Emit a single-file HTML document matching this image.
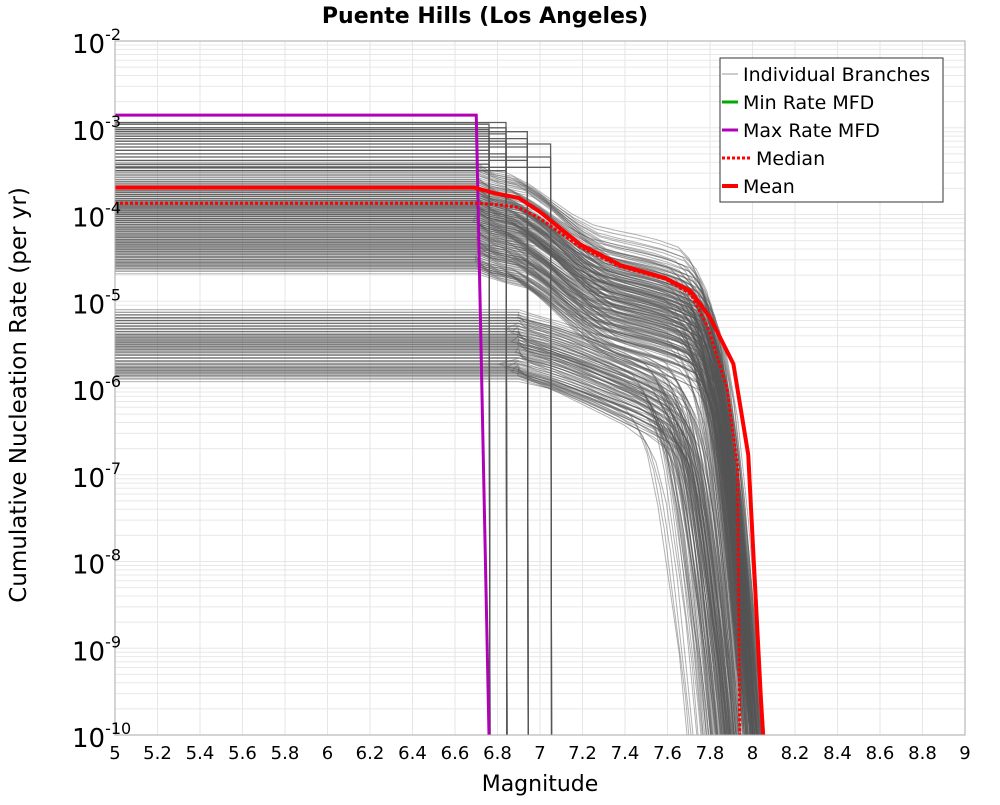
<!DOCTYPE html>
<html><head><meta charset="utf-8"><style>
body{margin:0;background:#fff;font-family:"Liberation Sans",sans-serif}
svg text{font-family:"DejaVu Sans","Liberation Sans",sans-serif}
</style></head><body>
<svg id="c" width="1000" height="800" xmlns="http://www.w3.org/2000/svg">
<defs><clipPath id="pc"><rect x="115" y="41" width="850" height="694"/></clipPath></defs>
<rect width="1000" height="800" fill="#fff"/>
<text x="485" y="23" font-size="22" font-weight="bold" text-anchor="middle">Puente Hills (Los Angeles)</text>
<g id="grid"></g>
<g id="branches" clip-path="url(#pc)"></g>
<g id="main" clip-path="url(#pc)"></g>
<rect x="115" y="41" width="850" height="694" fill="none" stroke="#aaa"/>
<g id="axes"></g>
<text x="540" y="791" font-size="22" text-anchor="middle">Magnitude</text>
<text transform="translate(26,395) rotate(-90)" font-size="23" text-anchor="middle">Cumulative Nucleation Rate (per yr)</text>
<g>
<rect x="720" y="58" width="223" height="144" fill="#fff" stroke="#333"/>
<line x1="722" y1="74" x2="738" y2="74" stroke="#999" stroke-width="1"/>
<text x="743" y="81" font-size="19">Individual Branches</text>
<line x1="722" y1="102" x2="738" y2="102" stroke="#00aa00" stroke-width="3"/>
<text x="743" y="109" font-size="19">Min Rate MFD</text>
<line x1="722" y1="130" x2="738" y2="130" stroke="#b000b8" stroke-width="3"/>
<text x="743" y="137" font-size="19">Max Rate MFD</text>
<line x1="722" y1="158" x2="750" y2="158" stroke="#f00" stroke-width="3" stroke-dasharray="3,2"/>
<text x="756" y="165" font-size="19">Median</text>
<line x1="722" y1="186" x2="738" y2="186" stroke="#f00" stroke-width="4"/>
<text x="743" y="193" font-size="19">Mean</text>
</g>
</svg>
<script>
const xTicks=[5,5.2,5.4,5.6,5.8,6,6.2,6.4,6.6,6.8,7,7.2,7.4,7.6,7.8,8,8.2,8.4,8.6,8.8,9];
const yDecades=[-2,-3,-4,-5,-6,-7,-8,-9,-10];
const meanMag=[5,6.69,6.79,6.9,7.0,7.19,7.38,7.59,7.71,7.8,7.91,7.98,8.04,8.05];
const meanRate=[2.05e-4,2.05e-4,1.75e-4,1.55e-4,1.07e-4,4.5e-5,2.6e-5,1.85e-5,1.3e-5,6.5e-6,1.9e-6,1.7e-7,2.5e-10,1e-10];
const medMag=[5,6.7,6.8,6.9,7.0,7.19,7.38,7.59,7.71,7.79,7.88,7.93,7.94];
const medRate=[1.35e-4,1.35e-4,1.3e-4,1.2e-4,9e-5,4.2e-5,2.5e-5,1.8e-5,1.2e-5,5e-6,1e-6,1.2e-7,1e-10];
const maxMag=[5,6.7,6.76];
const maxRate=[1.4e-3,1.4e-3,1e-10];
const upMag=[5,6.7,6.8,6.9,7.0,7.1,7.2,7.3,7.4,7.5,7.6,7.7,7.75,7.8,7.85,7.9,7.95,8.0];
const upLogF=[0,0,-0.1,-0.15,-0.3,-0.5,-0.7,-0.85,-0.92,-0.98,-1.05,-1.15,-1.3,-1.6,-2.2,-3.2,-4.5,-6];
const upLevels=[3e-4,2.8e-4,2.5e-4,2.3e-4,2.1e-4,2e-4,1.9e-4,1.8e-4,1.7e-4,1.6e-4,1.5e-4,1.45e-4,1.4e-4,1.3e-4,1.25e-4,1.2e-4,1.1e-4,1.05e-4,1e-4,9.5e-5,9e-5,8.5e-5,8e-5,7.5e-5,7e-5,6.5e-5,6e-5,5.7e-5,5.4e-5,5e-5,4.7e-5,4.4e-5,4.1e-5,3.8e-5,3.5e-5,3.2e-5,3e-5,2.8e-5,2.6e-5,3.6e-4,4e-4];
const upShift=[0.05,-0.05,0.02,-0.1,0.08,0,-0.03,0.04,-0.08,0.06,0.01,-0.12,0.03,-0.02,0.07,-0.06,0.0,0.04,-0.15,0.02,0.05,-0.04,0.09,-0.01,-0.07,0.03,0.06,-0.1,0.0,0.02,-0.05,0.08,-0.02,0.04,-0.13,0.01,0.05,-0.03,0.03,0.0,-0.02];
const hiLevels=[1.15e-3,1.1e-3,1e-3,9.5e-4,9e-4,8.5e-4,8e-4,7.5e-4,7e-4,6.5e-4,6e-4,5.5e-4,5e-4,4.6e-4,4.2e-4,3.8e-4,3.5e-4,3.2e-4];
const hiCut=[6.84,6.76,6.84,6.76,6.94,6.84,6.76,6.94,6.84,7.05,6.94,6.76,6.84,7.05,6.94,6.76,7.05,6.84];
const loMag=[5,6.9,7.0,7.1,7.2,7.3,7.4,7.5,7.6,7.65,7.7,7.75,7.8,7.85,7.9,7.95];
const loLogF=[0,0,-0.08,-0.16,-0.25,-0.35,-0.45,-0.55,-0.7,-0.9,-1.3,-2,-3,-4,-5.5,-8];
const loLevels=[8e-6,7.5e-6,7e-6,6.5e-6,6e-6,5.6e-6,5.2e-6,4.8e-6,4.5e-6,4.2e-6,4e-6,3.8e-6,3.6e-6,3.4e-6,3.2e-6,3e-6,2.8e-6,2.6e-6,2.4e-6,2.2e-6,2e-6,1.9e-6,1.8e-6,1.7e-6,1.6e-6,1.5e-6];
const loShift=[0.05,-0.1,0.0,0.08,-0.05,-0.2,0.03,0.1,-0.08,0.02,-0.15,0.06,0.0,-0.03,0.09,-0.12,0.04,-0.06,0.07,-0.25,0.01,0.05,-0.09,0.03,-0.02,0.06];

const X=m=>115+(m-5)*212.5;
const Y=r=>41+(-2-Math.log10(r))*86.75;
const NS="http://www.w3.org/2000/svg";
function mk(p,tag,attrs){const e=document.createElementNS(NS,tag);for(const k in attrs)e.setAttribute(k,attrs[k]);p.appendChild(e);return e;}
const grid=document.getElementById('grid'),axes=document.getElementById('axes');
for(let d=-2;d>-10;d--){for(let k=1;k<10;k++){const y=Y(k*Math.pow(10,d-1));
const l=mk(grid,'line',{x1:115,x2:965,y1:y,y2:y,stroke:'#e8e8e8','stroke-width':1});

}}
xTicks.forEach(t=>{const x=X(t);
const l=mk(grid,'line',{x1:x,x2:x,y1:41,y2:735,stroke:'#e6e6e6','stroke-width':1});


const tx=mk(axes,'text',{x:x,y:759,'font-size':18,'text-anchor':'middle'});tx.textContent=String(t);

});
yDecades.forEach(d=>{const y=Y(Math.pow(10,d));
const tx=mk(axes,'text',{x:72,y:y+12,'font-size':26});


tx.textContent='10';const s=mk(tx,'tspan',{dy:-13,'font-size':16});s.textContent=String(d);});
const br=document.getElementById('branches');
function poly(pts,stroke,w,op){return mk(br,'polyline',{points:pts.map(p=>p[0].toFixed(1)+','+p[1].toFixed(1)).join(' '),fill:'none',stroke:stroke,'stroke-width':w,'stroke-opacity':op});}
function pts(mags,vals){return mags.map((m,i)=>[X(m),Y(Math.max(vals[i],1e-11))]);}
loLevels.forEach((lv,i)=>{const s=loShift[i];
for(let k=0;k<4;k++){const m=loMag.map((v,j)=>j<2?v:v+s*0.6+(k-1.5)*0.03);
const e=poly(pts(m,loLogF.map(f=>lv*(1-0.07*k)*Math.pow(10,f*(0.85+0.12*k)))),'#555',1,0.45);

}});
upLevels.forEach((lv,i)=>{const s=upShift[i];
for(let k=0;k<5;k++){const m=upMag.map((v,j)=>j<2?v:v+s*0.5+(k-2)*0.02);
const e=poly(pts(m,upLogF.map(f=>lv*(1-0.05*k)*Math.pow(10,f*(0.85+0.08*k)))),'#555',1,0.45);

}});
hiLevels.forEach((lv,i)=>{const c=hiCut[i];
const e=poly(pts([5,c,c+0.005],[lv,lv,1e-11]),'#555',1.3,0.95);

});
const mn=document.getElementById('main');
function line(mags,rates,attrs,name){const e=mk(mn,'polyline',Object.assign({points:pts(mags,rates).map(p=>p.join(',')).join(' '),fill:'none'},attrs));

}
line(maxMag,maxRate,{stroke:'#b000b8','stroke-width':3},'max-rate-mfd');
line(medMag,medRate,{stroke:'#f00','stroke-width':3,'stroke-dasharray':'3,2'},'median-line');
line(meanMag,meanRate,{stroke:'#f00','stroke-width':4},'mean-line');
</script>
</body></html>
